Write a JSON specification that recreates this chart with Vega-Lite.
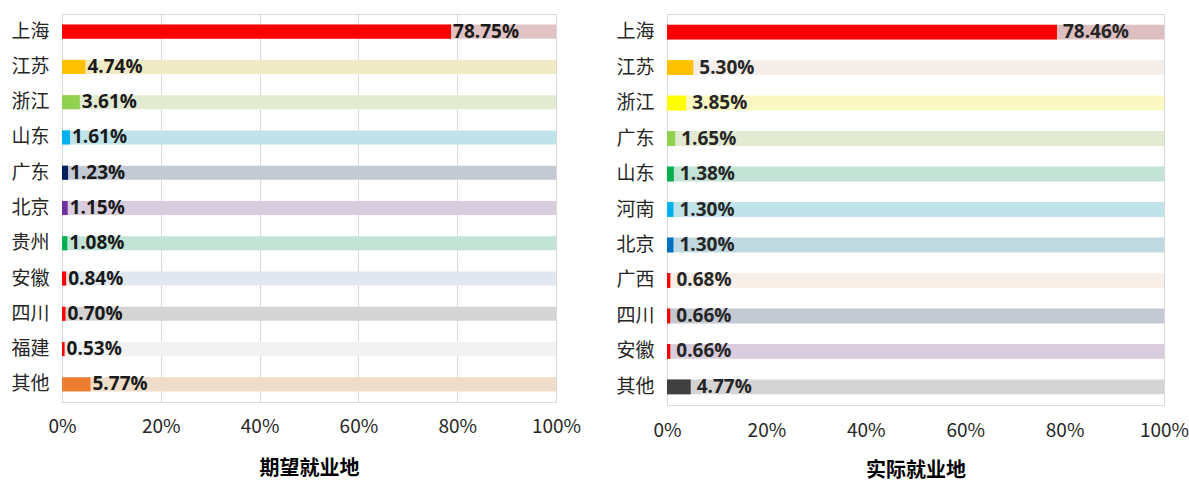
{
  "$schema": "https://vega.github.io/schema/vega-lite/v6.json",
  "padding": {"left": 10, "top": 13, "right": 0, "bottom": 0},
  "background": "white",
  "config": {
    "view": {"stroke": "#D9D9D9", "strokeWidth": 1},
    "font": "Noto Sans CJK SC",
    "axis": {"labelFont": "Noto Sans CJK SC", "titleFont": "Noto Sans CJK SC"}
  },
  "datasets": {
    "expected": [
      {"地区": "上海", "比例": 0.7875},
      {"地区": "江苏", "比例": 0.0474},
      {"地区": "浙江", "比例": 0.0361},
      {"地区": "山东", "比例": 0.0161},
      {"地区": "广东", "比例": 0.0123},
      {"地区": "北京", "比例": 0.0115},
      {"地区": "贵州", "比例": 0.0108},
      {"地区": "安徽", "比例": 0.0084},
      {"地区": "四川", "比例": 0.0070},
      {"地区": "福建", "比例": 0.0053},
      {"地区": "其他", "比例": 0.0577}
    ],
    "actual": [
      {"地区": "上海", "比例": 0.7846},
      {"地区": "江苏", "比例": 0.0530},
      {"地区": "浙江", "比例": 0.0385},
      {"地区": "广东", "比例": 0.0165},
      {"地区": "山东", "比例": 0.0138},
      {"地区": "河南", "比例": 0.0130},
      {"地区": "北京", "比例": 0.0130},
      {"地区": "广西", "比例": 0.0068},
      {"地区": "四川", "比例": 0.0066},
      {"地区": "安徽", "比例": 0.0066},
      {"地区": "其他", "比例": 0.0477}
    ]
  },
  "spacing": 33,
  "resolve": {"scale": {"color": "independent", "y": "independent", "x": "independent"}},
  "hconcat": [
    {
      "width": 494,
      "height": 388,
      "data": {"name": "expected"},
      "encoding": {
        "y": {
          "field": "地区", "type": "nominal", "sort": null,
          "scale": {"paddingInner": 0.6, "paddingOuter": 0.3},
          "axis": {"title": null, "labelFontSize": 19, "labelPadding": 13, "ticks": false, "domain": false, "labelColor": "#262626"}
        }
      },
      "resolve": {"scale": {"color": "independent"}},
      "layer": [
        {
          "mark": {"type": "bar"},
          "encoding": {
            "x": {
              "datum": 1, "type": "quantitative",
              "scale": {"domain": [0, 1]},
              "axis": {
                "values": [0, 0.2, 0.4, 0.6, 0.8, 1], "format": ".0%", "labelFlush": false,
                "grid": true, "gridColor": "#D9D9D9", "domain": false, "ticks": false,
                "labelFontSize": 19, "labelPadding": 15, "labelColor": "#262626",
                "title": "期望就业地", "titleFontSize": 20, "titleFontWeight": "bold", "titleColor": "#000000", "titlePadding": 22
              }
            },
            "color": {
              "field": "地区", "type": "nominal", "legend": null,
              "scale": {
                "domain": ["上海", "江苏", "浙江", "山东", "广东", "北京", "贵州", "安徽", "四川", "福建", "其他"],
                "range": ["#E2C3C4", "#F1EBC5", "#E2EBD2", "#BFE3E8", "#C3CAD3", "#D9CCDD", "#C2E3D5", "#E1E7EE", "#D4D4D4", "#F2F2F2", "#EFDDC9"]
              }
            }
          }
        },
        {
          "mark": {"type": "bar"},
          "encoding": {
            "x": {"field": "比例", "type": "quantitative"},
            "color": {
              "field": "地区", "type": "nominal", "legend": null,
              "scale": {
                "domain": ["上海", "江苏", "浙江", "山东", "广东", "北京", "贵州", "安徽", "四川", "福建", "其他"],
                "range": ["#FF0000", "#FFC000", "#92D050", "#00B0F0", "#002060", "#7030A0", "#00B050", "#FF0000", "#FF0000", "#FF0000", "#ED7D31"]
              }
            }
          }
        },
        {
          "mark": {"type": "text", "align": "left", "baseline": "middle", "dx": 2, "fontSize": 19, "fontWeight": "bold", "font": "Open Sans", "color": "#1A1A1A"},
          "encoding": {
            "x": {"field": "比例", "type": "quantitative"},
            "text": {"field": "比例", "type": "quantitative", "format": ".2%"}
          }
        }
      ]
    },
    {
      "width": 497,
      "height": 391,
      "data": {"name": "actual"},
      "encoding": {
        "y": {
          "field": "地区", "type": "nominal", "sort": null,
          "scale": {"paddingInner": 0.58, "paddingOuter": 0.3},
          "axis": {"title": null, "labelFontSize": 19, "labelPadding": 13, "ticks": false, "domain": false, "labelColor": "#262626"}
        }
      },
      "resolve": {"scale": {"color": "independent"}},
      "layer": [
        {
          "mark": {"type": "bar"},
          "encoding": {
            "x": {
              "datum": 1, "type": "quantitative",
              "scale": {"domain": [0, 1]},
              "axis": {
                "values": [0, 0.2, 0.4, 0.6, 0.8, 1], "format": ".0%", "labelFlush": false,
                "grid": false, "domain": false, "ticks": false,
                "labelFontSize": 19, "labelPadding": 16, "labelColor": "#262626",
                "title": "实际就业地", "titleFontSize": 20, "titleFontWeight": "bold", "titleColor": "#000000", "titlePadding": 20
              }
            },
            "color": {
              "field": "地区", "type": "nominal", "legend": null,
              "scale": {
                "domain": ["上海", "江苏", "浙江", "广东", "山东", "河南", "北京", "广西", "四川", "安徽", "其他"],
                "range": ["#DDBFC0", "#F5EDE8", "#FBF8C4", "#E2EBD2", "#C2E3D5", "#BFE3E8", "#C0D8DF", "#F7EFE8", "#C3CAD3", "#D9CCDD", "#D4D4D4"]
              }
            }
          }
        },
        {
          "mark": {"type": "bar"},
          "encoding": {
            "x": {"field": "比例", "type": "quantitative"},
            "color": {
              "field": "地区", "type": "nominal", "legend": null,
              "scale": {
                "domain": ["上海", "江苏", "浙江", "广东", "山东", "河南", "北京", "广西", "四川", "安徽", "其他"],
                "range": ["#FF0000", "#FFC000", "#FFFF00", "#92D050", "#00B050", "#00B0F0", "#0070C0", "#FF0000", "#FF0000", "#FF0000", "#404040"]
              }
            }
          }
        },
        {
          "mark": {"type": "text", "align": "left", "baseline": "middle", "dx": 6, "fontSize": 19, "fontWeight": "bold", "font": "Open Sans", "color": "#262626"},
          "encoding": {
            "x": {"field": "比例", "type": "quantitative"},
            "text": {"field": "比例", "type": "quantitative", "format": ".2%"}
          }
        }
      ]
    }
  ]
}
